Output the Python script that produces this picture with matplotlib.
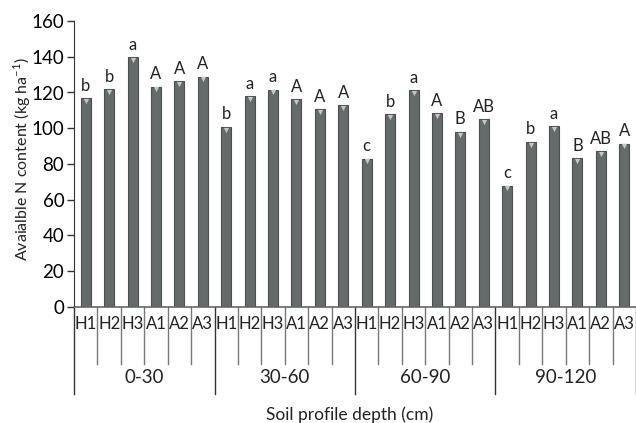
import numpy as np
import matplotlib.pyplot as plt
import matplotlib.transforms as mtransforms

plt.rcParams['font.family'] = ['Lato', 'DejaVu Sans']

depths = ['0-30', '30-60', '60-90', '90-120']
treatments = ['H1', 'H2', 'H3', 'A1', 'A2', 'A3']
n_content = [
    [116.8, 122.1, 140.0, 123.3, 126.3, 128.9],
    [100.9, 117.8, 121.6, 116.2, 110.8, 113.0],
    [83.0, 108.1, 121.4, 108.7, 98.1, 105.2],
    [67.9, 92.5, 101.4, 83.5, 87.1, 91.4],
]
letters = [
    ['b', 'b', 'a', 'A', 'A', 'A'],
    ['b', 'a', 'a', 'A', 'A', 'A'],
    ['c', 'b', 'a', 'A', 'B', 'AB'],
    ['c', 'b', 'a', 'B', 'AB', 'A'],
]

values = np.array(n_content).ravel()
tags = [t for row in letters for t in row]
labels = treatments * len(depths)
x = np.arange(len(values))

fig = plt.figure(figsize=(6.36, 4.23), dpi=100)
ax = fig.add_axes([74/636, 116/423, 562/636, 286/423])

ax.bar(x, values, width=0.43, color='#656a6a', edgecolor='#4a4e4e', linewidth=0.8, zorder=2)
ax.scatter(x, values - 1.6, marker='v', s=14, color='#c4c8c8', linewidths=0, zorder=3)

for xi, v, t in zip(x, values, tags):
    ax.annotate(t, (xi, v), xytext=(0, 3), textcoords='offset points',
                ha='center', va='bottom', fontsize=12, color='#222222')

ax.set_xlim(-0.5, len(values) - 0.5)
ax.set_ylim(0, 160)
ax.set_yticks(np.arange(0, 161, 20))
ax.set_xticks([])
ax.tick_params(axis='y', length=5, width=1, color='#333333', labelsize=13.5, pad=2)
for s in ['top', 'right']:
    ax.spines[s].set_visible(False)
ax.spines['left'].set_color('#333333')
ax.spines['bottom'].set_color('#666666')
ax.spines['bottom'].set_linewidth(1.2)

trans = mtransforms.blended_transform_factory(ax.transData, ax.transAxes)
for i in range(len(values) + 1):
    if i % 6 == 0:
        ax.plot([i - 0.5, i - 0.5], [0, -0.304], transform=trans, clip_on=False,
                color='#333333', linewidth=1)
    else:
        ax.plot([i - 0.5, i - 0.5], [0, -0.199], transform=trans, clip_on=False,
                color='#777777', linewidth=1)

for xi, lab in zip(x, labels):
    ax.text(xi, -0.059, lab, transform=trans, ha='center', va='center',
            fontsize=12, color='#222222')

for g, d in enumerate(depths):
    ax.text(g * 6 + 2.5, -0.248, d, transform=trans, ha='center', va='center',
            fontsize=13.5, color='#222222')

fig.text(350/636, 8/423, 'Soil profile depth (cm)', ha='center', va='center',
         fontsize=12.5, color='#222222')
fig.text(22/636, 1 - 159/423, 'Avaialble N content (kg ha$^{\\mathregular{-1}}$)', rotation=90,
         ha='center', va='center', fontsize=11.5, color='#222222')

fig.savefig('out.png', dpi=100)
